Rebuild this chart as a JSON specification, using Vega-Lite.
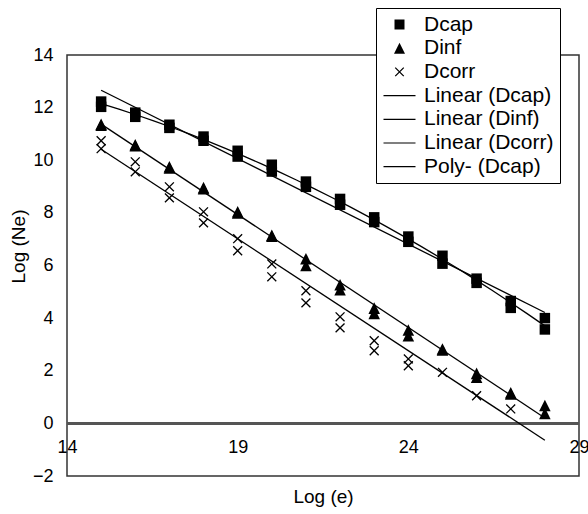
{
  "$schema": "https://vega.github.io/schema/vega-lite/v6.json",
  "width": 512,
  "height": 421,
  "autosize": "none",
  "padding": {"left": 67, "top": 55, "right": 9, "bottom": 38},
  "background": "white",
  "config": {
    "view": {"stroke": "#333", "strokeWidth": 1.5},
    "font": "Liberation Sans",
    "axis": {"labelFont": "Liberation Sans", "titleFont": "Liberation Sans", "labelColor": "black", "titleColor": "black", "titleFontWeight": "normal", "grid": false, "ticks": false, "domain": false}
  },
  "data": {
    "values": [
      {"x": 15, "y": 12.23, "series": "Dcap"}, {"x": 15, "y": 12.03, "series": "Dcap"},
      {"x": 16, "y": 11.81, "series": "Dcap"}, {"x": 16, "y": 11.65, "series": "Dcap"},
      {"x": 17, "y": 11.35, "series": "Dcap"}, {"x": 17, "y": 11.23, "series": "Dcap"},
      {"x": 18, "y": 10.90, "series": "Dcap"}, {"x": 18, "y": 10.74, "series": "Dcap"},
      {"x": 19, "y": 10.36, "series": "Dcap"}, {"x": 19, "y": 10.14, "series": "Dcap"},
      {"x": 20, "y": 9.83, "series": "Dcap"}, {"x": 20, "y": 9.57, "series": "Dcap"},
      {"x": 21, "y": 9.19, "series": "Dcap"}, {"x": 21, "y": 8.99, "series": "Dcap"},
      {"x": 22, "y": 8.53, "series": "Dcap"}, {"x": 22, "y": 8.31, "series": "Dcap"},
      {"x": 23, "y": 7.83, "series": "Dcap"}, {"x": 23, "y": 7.65, "series": "Dcap"},
      {"x": 24, "y": 7.10, "series": "Dcap"}, {"x": 24, "y": 6.90, "series": "Dcap"},
      {"x": 25, "y": 6.37, "series": "Dcap"}, {"x": 25, "y": 6.07, "series": "Dcap"},
      {"x": 26, "y": 5.50, "series": "Dcap"}, {"x": 26, "y": 5.34, "series": "Dcap"},
      {"x": 27, "y": 4.65, "series": "Dcap"}, {"x": 27, "y": 4.39, "series": "Dcap"},
      {"x": 28, "y": 4.00, "series": "Dcap"}, {"x": 28, "y": 3.57, "series": "Dcap"},
      {"x": 15, "y": 11.37, "series": "Dinf"}, {"x": 15, "y": 11.33, "series": "Dinf"},
      {"x": 16, "y": 10.59, "series": "Dinf"}, {"x": 16, "y": 10.55, "series": "Dinf"},
      {"x": 17, "y": 9.75, "series": "Dinf"}, {"x": 17, "y": 9.71, "series": "Dinf"},
      {"x": 18, "y": 8.96, "series": "Dinf"}, {"x": 18, "y": 8.92, "series": "Dinf"},
      {"x": 19, "y": 8.04, "series": "Dinf"}, {"x": 19, "y": 8.00, "series": "Dinf"},
      {"x": 20, "y": 7.15, "series": "Dinf"}, {"x": 20, "y": 7.11, "series": "Dinf"},
      {"x": 21, "y": 6.26, "series": "Dinf"}, {"x": 21, "y": 6.00, "series": "Dinf"},
      {"x": 22, "y": 5.27, "series": "Dinf"}, {"x": 22, "y": 5.08, "series": "Dinf"},
      {"x": 23, "y": 4.38, "series": "Dinf"}, {"x": 23, "y": 4.18, "series": "Dinf"},
      {"x": 24, "y": 3.55, "series": "Dinf"}, {"x": 24, "y": 3.33, "series": "Dinf"},
      {"x": 25, "y": 2.83, "series": "Dinf"}, {"x": 25, "y": 2.79, "series": "Dinf"},
      {"x": 26, "y": 1.90, "series": "Dinf"}, {"x": 26, "y": 1.75, "series": "Dinf"},
      {"x": 27, "y": 1.16, "series": "Dinf"}, {"x": 27, "y": 1.12, "series": "Dinf"},
      {"x": 28, "y": 0.68, "series": "Dinf"}, {"x": 28, "y": 0.38, "series": "Dinf"},
      {"x": 15, "y": 10.74, "series": "Dcorr"}, {"x": 15, "y": 10.44, "series": "Dcorr"},
      {"x": 16, "y": 9.94, "series": "Dcorr"}, {"x": 16, "y": 9.56, "series": "Dcorr"},
      {"x": 17, "y": 8.99, "series": "Dcorr"}, {"x": 17, "y": 8.57, "series": "Dcorr"},
      {"x": 18, "y": 8.04, "series": "Dcorr"}, {"x": 18, "y": 7.62, "series": "Dcorr"},
      {"x": 19, "y": 7.02, "series": "Dcorr"}, {"x": 19, "y": 6.56, "series": "Dcorr"},
      {"x": 20, "y": 6.06, "series": "Dcorr"}, {"x": 20, "y": 5.57, "series": "Dcorr"},
      {"x": 21, "y": 5.04, "series": "Dcorr"}, {"x": 21, "y": 4.58, "series": "Dcorr"},
      {"x": 22, "y": 4.05, "series": "Dcorr"}, {"x": 22, "y": 3.63, "series": "Dcorr"},
      {"x": 23, "y": 3.14, "series": "Dcorr"}, {"x": 23, "y": 2.76, "series": "Dcorr"},
      {"x": 24, "y": 2.45, "series": "Dcorr"}, {"x": 24, "y": 2.19, "series": "Dcorr"},
      {"x": 25, "y": 1.94, "series": "Dcorr"},
      {"x": 26, "y": 1.05, "series": "Dcorr"},
      {"x": 27, "y": 0.55, "series": "Dcorr"},
      {"x": 15, "y": 10.42, "series": "Linear (Dcorr)"},
      {"x": 28, "y": -0.64, "series": "Linear (Dcorr)"}
    ]
  },
  "layer": [
    {
      "mark": {"type": "rule", "color": "#555", "strokeWidth": 2},
      "encoding": {"y": {"datum": 0, "type": "quantitative"}}
    },
    {
      "transform": [{"filter": "datum.series === 'Dcap'"}, {"regression": "y", "on": "x", "method": "linear", "extent": [15, 28]}],
      "mark": {"type": "line", "color": "black", "strokeWidth": 1.3},
      "encoding": {"x": {"field": "x", "type": "quantitative"}, "y": {"field": "y", "type": "quantitative"}}
    },
    {
      "transform": [{"filter": "datum.series === 'Dcap'"}, {"regression": "y", "on": "x", "method": "poly", "order": 2, "extent": [15, 28]}],
      "mark": {"type": "line", "color": "black", "strokeWidth": 1.3},
      "encoding": {"x": {"field": "x", "type": "quantitative"}, "y": {"field": "y", "type": "quantitative"}}
    },
    {
      "transform": [{"filter": "datum.series === 'Dinf'"}, {"regression": "y", "on": "x", "method": "linear", "extent": [15, 28]}],
      "mark": {"type": "line", "color": "black", "strokeWidth": 1.3},
      "encoding": {"x": {"field": "x", "type": "quantitative"}, "y": {"field": "y", "type": "quantitative"}}
    },
    {
      "transform": [{"filter": "datum.series === 'Linear (Dcorr)'"}],
      "mark": {"type": "line", "color": "black", "strokeWidth": 1.3},
      "encoding": {"x": {"field": "x", "type": "quantitative"}, "y": {"field": "y", "type": "quantitative"}}
    },
    {
      "transform": [{"filter": "indexof(['Dcap','Dinf','Dcorr'], datum.series) >= 0"}],
      "mark": {"type": "point", "filled": true, "fill": "black", "strokeWidth": 0, "opacity": 1, "size": 110},
      "encoding": {
        "x": {
          "field": "x", "type": "quantitative",
          "scale": {"domain": [14, 29], "nice": false, "zero": false},
          "axis": {"values": [14, 19, 24, 29], "offset": -52.6, "labelPadding": 15, "labelFontSize": 18, "labelFlush": false, "labelOverlap": false, "labelBound": false, "title": "Log (e)", "titleFontSize": 19, "titleY": 73, "titleBaseline": "middle"}
        },
        "y": {
          "field": "y", "type": "quantitative",
          "scale": {"domain": [-2, 14], "nice": false, "zero": false},
          "axis": {"values": [-2, 0, 2, 4, 6, 8, 10, 12, 14], "labelPadding": 14, "labelFontSize": 18, "title": "Log (Ne)", "titleFontSize": 19, "titleAngle": 270, "titleX": -49, "titleY": 191, "titleAlign": "center", "titleBaseline": "middle"}
        },
        "shape": {
          "field": "series", "type": "nominal",
          "scale": {
            "domain": ["Dcap", "Dinf", "Dcorr", "Linear (Dcap)", "Linear (Dinf)", "Linear (Dcorr)", "Poly- (Dcap)"],
            "range": [
              "M-1,-1H1V1H-1Z",
              "M0,-1.1L1.1,1.1H-1.1Z",
              "M-0.76,-0.94L0.94,0.76L0.76,0.94L-0.94,-0.76ZM0.94,-0.76L-0.76,0.94L-0.94,0.76L0.76,-0.94Z",
              "M-3.2,-0.12H3.2V0.12H-3.2Z",
              "M-3.2,-0.12H3.2V0.12H-3.2Z",
              "M-3.2,-0.12H3.2V0.12H-3.2Z",
              "M-3.2,-0.12H3.2V0.12H-3.2Z"
            ]
          },
          "legend": {
            "title": null, "orient": "none", "legendX": 309, "legendY": -47,
            "padding": 6, "strokeColor": "black", "fillColor": "white",
            "labelFont": "Liberation Sans", "labelFontSize": 21, "labelColor": "black", "labelLimit": 0,
            "symbolSize": 100, "symbolFillColor": "black", "symbolStrokeWidth": 0, "symbolOpacity": 1,
            "symbolOffset": 7, "labelOffset": 14, "rowPadding": 1.7,
            "encode": {"symbols": {"fill": {"value": "black"}, "fillOpacity": {"value": 1}, "strokeWidth": {"value": 0}, "opacity": {"value": 1}}}
          }
        }
      }
    }
  ]
}
